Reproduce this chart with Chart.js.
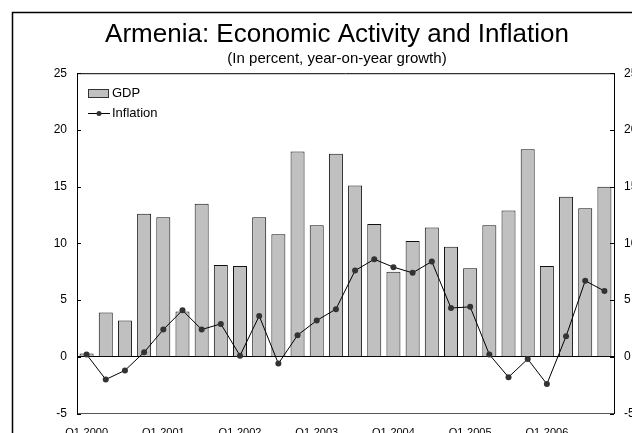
<!DOCTYPE html>
<html lang="en">
<head>
    <meta charset="UTF-8">
    <title>Armenia: Economic Activity and Inflation</title>
    <style>
        html, body { margin: 0; padding: 0; background: #fff; overflow: hidden; }
        .chart { width: 632px; height: 433px; overflow: hidden; }
    </style>
</head>
<body>
    <div class="chart">
        <canvas id="armeniaChart" width="674" height="450"></canvas>
    </div>

    <script src="https://cdn.jsdelivr.net/npm/chart.js"></script>
    <script>
        const quarters = [
            'Q1-2000', 'Q2-2000', 'Q3-2000', 'Q4-2000',
            'Q1-2001', 'Q2-2001', 'Q3-2001', 'Q4-2001',
            'Q1-2002', 'Q2-2002', 'Q3-2002', 'Q4-2002',
            'Q1-2003', 'Q2-2003', 'Q3-2003', 'Q4-2003',
            'Q1-2004', 'Q2-2004', 'Q3-2004', 'Q4-2004',
            'Q1-2005', 'Q2-2005', 'Q3-2005', 'Q4-2005',
            'Q1-2006', 'Q2-2006', 'Q3-2006', 'Q4-2006'
        ];
        const gdp = [
            0.3, 3.9, 3.2, 12.6,
            12.3, 4.0, 13.5, 8.1,
            8.0, 12.3, 10.8, 18.1,
            11.6, 17.9, 15.1, 11.7,
            7.5, 10.2, 11.4, 9.7,
            7.8, 11.6, 12.9, 18.3,
            8.0, 14.1, 13.1, 15.0
        ];
        const inflation = [
            0.2, -2.0, -1.2, 0.4,
            2.4, 4.1, 2.4, 2.9,
            0.1, 3.6, -0.6, 1.9,
            3.2, 4.2, 7.6, 8.6,
            7.9, 7.4, 8.4, 4.3,
            4.4, 0.2, -1.8, -0.2,
            -2.4, 1.8, 6.7, 5.8
        ];
        const yTicks = [-5, 0, 5, 10, 15, 20, 25];

        const W = 674, H = 450;
        const FONT = 'Arial, "Liberation Sans", sans-serif';

        // frame, top border, inward tick marks and the legend inside the plot
        const decorations = {
            id: 'decorations',
            beforeDraw(chart) {
                const ctx = chart.ctx;
                ctx.save();
                ctx.fillStyle = '#fff';
                ctx.fillRect(0, 0, chart.width, chart.height);
                ctx.strokeStyle = '#000';
                ctx.lineWidth = 1.5;
                ctx.strokeRect(12.5, 12.5, chart.width, chart.height);
                ctx.restore();
            },
            afterDraw(chart) {
                const ctx = chart.ctx;
                const area = chart.chartArea;
                const yl = chart.scales.y;
                ctx.save();
                ctx.strokeStyle = '#000';
                ctx.lineWidth = 1;
                ctx.beginPath();
                ctx.moveTo(area.left, area.top + 0.5);
                ctx.lineTo(area.right, area.top + 0.5);
                yTicks.forEach(v => {
                    const py = Math.round(yl.getPixelForValue(v)) + 0.5;
                    ctx.moveTo(area.left, py);
                    ctx.lineTo(area.left + 4, py);
                    ctx.moveTo(area.right - 4, py);
                    ctx.lineTo(area.right, py);
                });
                ctx.stroke();

                // legend
                const lx = area.left + 11;
                ctx.fillStyle = '#c0c0c0';
                ctx.strokeStyle = '#333';
                ctx.fillRect(lx, 89.5, 21, 8);
                ctx.strokeRect(lx + 0.5, 89.5, 20, 8);
                ctx.beginPath();
                ctx.strokeStyle = '#000';
                ctx.moveTo(lx, 113.5);
                ctx.lineTo(lx + 22, 113.5);
                ctx.stroke();
                ctx.fillStyle = '#333';
                ctx.beginPath();
                ctx.arc(lx + 11, 113.5, 2.5, 0, Math.PI * 2);
                ctx.fill();
                ctx.fillStyle = '#000';
                ctx.font = '13px ' + FONT;
                ctx.textBaseline = 'middle';
                ctx.fillText('GDP', lx + 24, 93.5);
                ctx.fillText('Inflation', lx + 24, 113.5);
                ctx.restore();
            }
        };

        const chartInstance = new Chart(document.getElementById('armeniaChart'), {
            data: {
                labels: quarters,
                datasets: [
                    {
                        type: 'line',
                        label: 'Inflation',
                        data: inflation,
                        borderColor: '#000',
                        borderWidth: 1,
                        pointRadius: 3,
                        pointBackgroundColor: '#333',
                        pointBorderColor: '#333',
                        pointBorderWidth: 0,
                        tension: 0,
                        yAxisID: 'y',
                        order: 1
                    },
                    {
                        type: 'bar',
                        label: 'GDP',
                        data: gdp,
                        backgroundColor: '#c0c0c0',
                        borderColor: '#111',
                        borderWidth: 1,
                        barPercentage: 0.73,
                        categoryPercentage: 1.0,
                        yAxisID: 'y',
                        order: 2
                    }
                ]
            },
            options: {
                responsive: false,
                animation: false,
                layout: { padding: 0 },
                scales: {
                    x: {
                        offset: true,
                        grid: { display: false, drawTicks: false },
                        border: { color: '#555', width: 1 },
                        ticks: {
                            autoSkip: false,
                            maxRotation: 0,
                            padding: 13,
                            color: '#000',
                            font: { family: FONT, size: 11 },
                            callback: function (val, i) { return i % 4 === 0 ? quarters[i] : ''; }
                        },
                        afterFit: scale => { scale.height = H - 413.5; }
                    },
                    y: {
                        position: 'left',
                        min: -5,
                        max: 25,
                        afterBuildTicks: scale => { scale.ticks = yTicks.map(v => ({ value: v })); },
                        grid: {
                            drawTicks: false,
                            color: ctx => ctx.tick && ctx.tick.value === 0 ? '#000' : 'rgba(0,0,0,0)'
                        },
                        border: { color: '#000', width: 1 },
                        ticks: { padding: 10, color: '#000', font: { family: FONT, size: 12 } },
                        afterFit: scale => { scale.width = 77; }
                    },
                    y1: {
                        position: 'right',
                        min: -5,
                        max: 25,
                        afterBuildTicks: scale => { scale.ticks = yTicks.map(v => ({ value: v })); },
                        grid: { display: false, drawTicks: false },
                        border: { color: '#000', width: 1 },
                        ticks: { padding: 10, color: '#000', font: { family: FONT, size: 12 } },
                        afterFit: scale => { scale.width = W - 614; }
                    }
                },
                plugins: {
                    legend: { display: false },
                    tooltip: { enabled: false },
                    title: {
                        display: true,
                        text: 'Armenia: Economic Activity and Inflation',
                        color: '#000',
                        font: { family: FONT, size: 26, weight: 'normal' },
                        padding: { top: 19, bottom: 0 }
                    },
                    subtitle: {
                        display: true,
                        text: '(In percent, year-on-year growth)',
                        color: '#000',
                        font: { family: FONT, size: 15, weight: 'normal' },
                        padding: { top: 0, bottom: 5 }
                    }
                }
            },
            plugins: [decorations]
        });
    </script>
</body>
</html>
